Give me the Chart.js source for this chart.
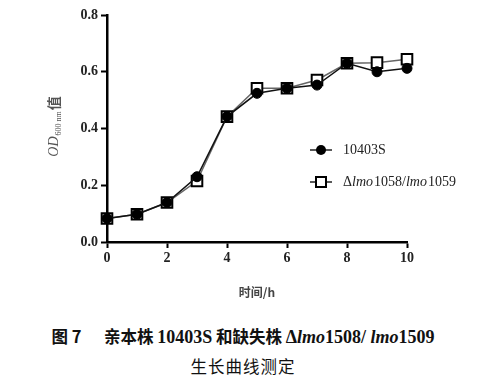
<!DOCTYPE html>
<html>
<head>
<meta charset="utf-8">
<script src="https://cdn.jsdelivr.net/npm/chart.js@4.4.1/dist/chart.umd.min.js"></script>
<style>
html,body{margin:0;padding:0;background:#fff;}
#wrap{position:relative;width:486px;height:310px;}
.cap{position:absolute;left:0;width:486px;text-align:center;color:#111;font-weight:bold;font-size:16.5px;font-family:"Noto Sans CJK SC",sans-serif;white-space:nowrap;}
.ser{font-family:"Liberation Serif",serif;font-weight:bold;font-size:18px;}
.it{font-style:italic;}
</style>
</head>
<body>
<div id="wrap"><canvas id="c" width="486" height="310"></canvas></div>
<div class="cap" style="top:324px;">图 7&nbsp;&nbsp;&nbsp;&nbsp;&nbsp; 亲本株 <span class="ser">10403S</span> 和缺失株 <span class="ser">Δ<span class="it">lmo</span>1508/ <span class="it">lmo</span>1509</span></div>
<div class="cap" style="top:354px;font-weight:normal;font-size:16.5px;letter-spacing:1px;">生长曲线测定</div>
<script>
const timeHours = [0,1,2,3,4,5,6,7,8,9,10];
const wildType = [0.083,0.098,0.139,0.230,0.442,0.524,0.542,0.553,0.630,0.600,0.612];
const mutant   = [0.083,0.098,0.139,0.215,0.442,0.542,0.542,0.571,0.630,0.632,0.644];
const yTicks = [0,0.2,0.4,0.6,0.8];
const xTicks = [0,2,4,6,8,10];
const seriesNames = ['10403S','Δlmo1058/lmo1059'];

const toXY = arr => arr.map((v,i)=>({x:timeHours[i],y:v}));

const extras = {
  id:'extras',
  afterDraw(chart){
    const ctx = chart.ctx;
    const ca = chart.chartArea;
    ctx.save();
    ctx.translate(54,(ca.top+ca.bottom)/2 - 2);
    ctx.rotate(-Math.PI/2);
    ctx.fillStyle='#555';
    ctx.textBaseline='middle';
    ctx.font='italic 14px "Liberation Serif"';
    const w1 = ctx.measureText('OD').width;
    ctx.font='8px "Liberation Serif"';
    const w2 = ctx.measureText('600 nm').width;
    ctx.font='bold 14px "Noto Sans CJK SC"';
    const w3 = ctx.measureText('值').width;
    let x0 = -(w1+w2+w3+2)/2;
    ctx.font='italic 14px "Liberation Serif"';
    ctx.fillText('OD',x0,0);
    ctx.font='8px "Liberation Serif"';
    ctx.fillText('600 nm',x0+w1+1,5);
    ctx.font='bold 14px "Noto Sans CJK SC"';
    ctx.fillText('值',x0+w1+w2+2,0);
    ctx.restore();

    ctx.save();
    ctx.fillStyle='#444';
    ctx.textAlign='center';
    ctx.textBaseline='middle';
    ctx.font='bold 12px "Noto Sans CJK SC"';
    ctx.fillText('时间/h',(ca.left+ca.right)/2,292);
    ctx.restore();

    ctx.save();
    const rows=[{y:150,type:'circle'},{y:182,type:'rect'}];
    rows.forEach((r,i)=>{
      ctx.strokeStyle='#222';ctx.lineWidth=1.5;
      ctx.beginPath();ctx.moveTo(310,r.y);ctx.lineTo(332,r.y);ctx.stroke();
      if(r.type==='circle'){
        ctx.fillStyle='#000';ctx.beginPath();ctx.arc(321,r.y,5,0,Math.PI*2);ctx.fill();
      }else{
        ctx.fillStyle='#fff';ctx.fillRect(316,r.y-5,10,10);
        ctx.lineWidth=2;ctx.strokeStyle='#000';ctx.strokeRect(316,r.y-5,10,10);
      }
      ctx.fillStyle='#222';ctx.textBaseline='middle';
      let tx=343;
      if(i===0){
        ctx.font='14px "Liberation Serif"';ctx.fillText(seriesNames[0],tx,r.y);
      }else{
        const parts=[['Δ',''],['lmo','italic '],['1058/',''],['lmo','italic '],['1059','']];
        parts.forEach(p=>{ctx.font=p[1]+'14px "Liberation Serif"';ctx.fillText(p[0],tx,r.y);tx+=ctx.measureText(p[0]).width+(p[1]?1:0);});
      }
    });
    ctx.restore();
  }
};

new Chart(document.getElementById('c'),{
  type:'line',
  data:{datasets:[
    {label:seriesNames[0],data:toXY(wildType),clip:false,borderColor:'#111',borderWidth:1.5,pointStyle:'circle',pointRadius:5,pointBackgroundColor:'#000',pointBorderColor:'#000',pointBorderWidth:1,tension:0},
    {label:seriesNames[1],data:toXY(mutant),clip:false,borderColor:'#666',borderWidth:1.5,pointStyle:'rect',pointRadius:7.5,pointBackgroundColor:'#fff',pointBorderColor:'#000',pointBorderWidth:2,tension:0}
  ]},
  options:{
    responsive:false,animation:false,
    layout:{padding:{left:0,right:79,top:15,bottom:0}},
    plugins:{legend:{display:false},tooltip:{enabled:false}},
    scales:{
      x:{type:'linear',min:0,max:10,
        afterFit:s=>{s.height=68;},
        afterBuildTicks:s=>{s.ticks=xTicks.map(v=>({value:v}));},
        grid:{drawOnChartArea:false,drawTicks:true,tickLength:6,tickWidth:2,tickColor:'#000'},
        border:{color:'#000',width:2.5},
        ticks:{color:'#222',font:{family:'"Liberation Serif"',size:14,weight:'bold'},padding:2,maxRotation:0}
      },
      y:{min:0,max:0.8,
        afterFit:s=>{s.width=107;},
        afterBuildTicks:s=>{s.ticks=yTicks.map(v=>({value:v}));},
        grid:{drawOnChartArea:false,drawTicks:true,tickLength:6,tickWidth:2,tickColor:'#000'},
        border:{color:'#000',width:2.5},
        ticks:{color:'#222',font:{family:'"Liberation Serif"',size:14,weight:'bold'},padding:3,callback:v=>v.toFixed(1)}
      }
    }
  },
  plugins:[extras]
});
</script>
</body>
</html>
